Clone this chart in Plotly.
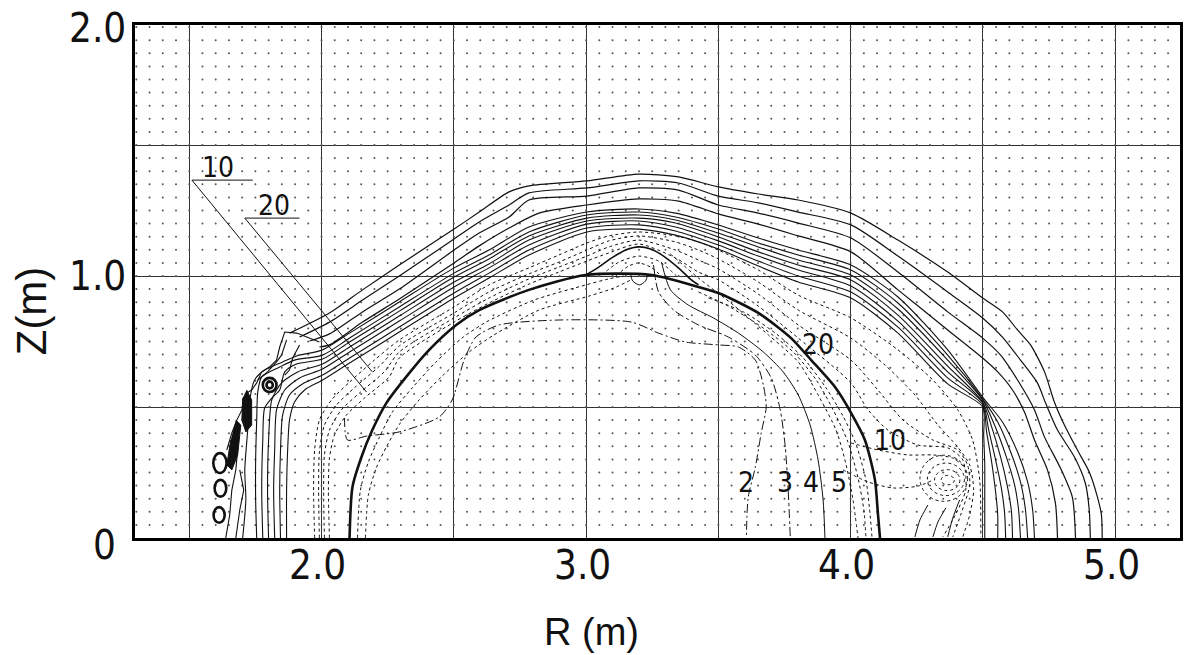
import numpy as np
import plotly.graph_objects as go

# ---------------- axes ----------------
R_RANGE = [1.295, 5.245]
Z_RANGE = [0.0, 1.958]
R_GRID = [1.5, 2.0, 2.5, 3.0, 3.5, 4.0, 4.5, 5.0]
Z_GRID = [0.5, 1.0, 1.5]
R_TICKS = [2.0, 3.0, 4.0, 5.0]
R_TICKTEXT = ["2.0", "3.0", "4.0", "5.0"]
Z_TICKS = [0.0, 1.0, 1.958]
Z_TICKTEXT = ["0", "1.0", "2.0"]

# ---------------- outer flux lines (solid) ----------------
O1_R = [1.879, 2.030, 2.155, 2.294, 2.501, 2.596, 2.709, 2.784, 3.003, 3.199, 3.349, 3.500, 3.651, 3.802, 4.001, 4.179, 4.367, 4.499, 4.574, 4.631, 4.680, 4.733, 4.770, 4.808, 4.857, 4.902, 4.933, 4.948, 4.951]
O1_Z = [0.782, 0.859, 0.947, 1.042, 1.179, 1.244, 1.321, 1.344, 1.363, 1.389, 1.378, 1.340, 1.313, 1.290, 1.240, 1.137, 1.015, 0.916, 0.863, 0.794, 0.737, 0.634, 0.519, 0.431, 0.336, 0.252, 0.156, 0.088, 0.0]
O2_R = [1.917, 2.030, 2.155, 2.294, 2.501, 2.596, 2.709, 2.784, 3.003, 3.199, 3.349, 3.500, 3.651, 3.802, 4.001, 4.179, 4.367, 4.499, 4.574, 4.642, 4.706, 4.737, 4.782, 4.846, 4.887, 4.902, 4.906]
O2_Z = [0.767, 0.824, 0.908, 1.000, 1.141, 1.206, 1.271, 1.317, 1.336, 1.363, 1.355, 1.305, 1.279, 1.244, 1.195, 1.076, 0.939, 0.840, 0.767, 0.679, 0.592, 0.515, 0.412, 0.309, 0.210, 0.107, 0.0]
O3_R = [1.955, 2.030, 2.155, 2.294, 2.501, 2.596, 2.709, 2.784, 3.003, 3.199, 3.349, 3.500, 3.651, 3.802, 4.001, 4.179, 4.367, 4.499, 4.567, 4.631, 4.695, 4.733, 4.793, 4.838, 4.850]
O3_Z = [0.752, 0.779, 0.863, 0.950, 1.099, 1.164, 1.225, 1.290, 1.305, 1.336, 1.328, 1.271, 1.240, 1.202, 1.145, 1.015, 0.863, 0.763, 0.698, 0.603, 0.489, 0.385, 0.267, 0.156, 0.0]
O4_R = [1.992, 2.030, 2.155, 2.294, 2.501, 2.596, 2.709, 2.822, 3.003, 3.199, 3.349, 3.500, 3.651, 3.802, 4.001, 4.179, 4.367, 4.499, 4.556, 4.612, 4.657, 4.695, 4.744, 4.774, 4.782]
O4_Z = [0.729, 0.737, 0.824, 0.912, 1.050, 1.115, 1.183, 1.240, 1.271, 1.294, 1.286, 1.237, 1.198, 1.153, 1.092, 0.947, 0.794, 0.687, 0.634, 0.565, 0.481, 0.374, 0.260, 0.134, 0.0]

# ---------------- band flux lines (solid) ----------------
B1_R = [1.702, 1.714, 1.710, 1.721, 1.729, 1.747, 1.785, 1.853, 1.906, 2.004, 2.106, 2.294, 2.501, 2.633, 2.784, 3.003, 3.199, 3.338, 3.500, 3.651, 3.802, 4.001, 4.179, 4.367, 4.499, 4.574, 4.631, 4.669, 4.688, 4.695]
B1_Z = [0.0, 0.145, 0.260, 0.412, 0.527, 0.603, 0.641, 0.672, 0.695, 0.718, 0.782, 0.901, 1.031, 1.099, 1.187, 1.244, 1.256, 1.240, 1.195, 1.145, 1.099, 1.042, 0.920, 0.718, 0.538, 0.443, 0.328, 0.214, 0.107, 0.0]
B2_R = [1.755, 1.751, 1.751, 1.755, 1.759, 1.774, 1.842, 1.898, 2.004, 2.106, 2.294, 2.501, 2.633, 2.784, 3.003, 3.199, 3.338, 3.500, 3.651, 3.802, 4.001, 4.179, 4.367, 4.499, 4.556, 4.605, 4.642, 4.661, 4.669]
B2_Z = [0.0, 0.145, 0.298, 0.450, 0.557, 0.615, 0.653, 0.679, 0.698, 0.763, 0.882, 1.011, 1.080, 1.168, 1.233, 1.244, 1.225, 1.179, 1.126, 1.080, 1.023, 0.897, 0.698, 0.531, 0.443, 0.328, 0.214, 0.107, 0.0]
B3_R = [1.778, 1.774, 1.778, 1.785, 1.812, 1.842, 1.861, 1.906, 2.004, 2.106, 2.294, 2.501, 2.633, 2.784, 3.003, 3.199, 3.338, 3.500, 3.651, 3.802, 4.001, 4.179, 4.367, 4.499, 4.544, 4.586, 4.620, 4.635, 4.642]
B3_Z = [0.0, 0.183, 0.374, 0.496, 0.534, 0.565, 0.634, 0.664, 0.683, 0.748, 0.866, 0.996, 1.065, 1.153, 1.221, 1.233, 1.214, 1.164, 1.111, 1.061, 1.004, 0.874, 0.679, 0.527, 0.431, 0.317, 0.202, 0.107, 0.0]
B4_R = [1.800, 1.796, 1.800, 1.812, 1.849, 1.910, 2.004, 2.106, 2.294, 2.501, 2.633, 2.784, 3.003, 3.199, 3.338, 3.500, 3.651, 3.802, 4.001, 4.179, 4.367, 4.499, 4.533, 4.567, 4.593, 4.608, 4.612]
B4_Z = [0.0, 0.183, 0.374, 0.527, 0.592, 0.634, 0.664, 0.729, 0.847, 0.977, 1.046, 1.137, 1.210, 1.221, 1.202, 1.149, 1.092, 1.042, 0.985, 0.851, 0.656, 0.519, 0.424, 0.309, 0.195, 0.099, 0.0]
B5_R = [1.823, 1.819, 1.823, 1.830, 1.861, 1.917, 2.004, 2.106, 2.294, 2.501, 2.633, 2.784, 3.003, 3.199, 3.338, 3.500, 3.651, 3.802, 4.001, 4.179, 4.367, 4.499, 4.522, 4.548, 4.571, 4.582, 4.586]
B5_Z = [0.0, 0.183, 0.336, 0.489, 0.565, 0.611, 0.645, 0.710, 0.828, 0.958, 1.031, 1.118, 1.198, 1.210, 1.187, 1.134, 1.076, 1.023, 0.962, 0.828, 0.634, 0.515, 0.412, 0.298, 0.183, 0.095, 0.0]
B6_R = [1.845, 1.842, 1.845, 1.853, 1.879, 1.928, 2.004, 2.106, 2.294, 2.501, 2.633, 2.784, 3.003, 3.199, 3.338, 3.500, 3.651, 3.802, 4.001, 4.179, 4.367, 4.499, 4.514, 4.533, 4.548, 4.556, 4.556]
B6_Z = [0.0, 0.183, 0.336, 0.469, 0.546, 0.588, 0.622, 0.687, 0.805, 0.935, 1.011, 1.099, 1.183, 1.195, 1.172, 1.118, 1.057, 1.000, 0.939, 0.805, 0.611, 0.508, 0.405, 0.290, 0.176, 0.088, 0.0]
B7_R = [1.868, 1.868, 1.872, 1.879, 1.898, 1.936, 2.004, 2.106, 2.294, 2.501, 2.633, 2.784, 3.003, 3.199, 3.338, 3.500, 3.651, 3.802, 4.001, 4.179, 4.367, 4.499, 4.503, 4.507, 4.507, 4.507, 4.507]
B7_Z = [0.0, 0.183, 0.336, 0.450, 0.519, 0.565, 0.603, 0.668, 0.786, 0.916, 0.992, 1.080, 1.168, 1.179, 1.156, 1.103, 1.038, 0.977, 0.916, 0.782, 0.588, 0.500, 0.393, 0.279, 0.164, 0.088, 0.0]

# ---------------- dense band along the wall, "10" family (dotted) ----------------
D1_R = [1.974, 1.970, 1.974, 1.992, 2.038, 2.106, 2.200, 2.294, 2.501, 2.633, 2.784, 2.897, 3.003, 3.086, 3.199, 3.338, 3.425, 3.500, 3.651, 3.802, 4.001, 4.179, 4.311, 4.405, 4.461, 4.488, 4.492]
D1_Z = [0.0, 0.183, 0.336, 0.450, 0.527, 0.595, 0.679, 0.756, 0.882, 0.966, 1.031, 1.080, 1.126, 1.153, 1.168, 1.153, 1.130, 1.099, 1.023, 0.927, 0.840, 0.718, 0.603, 0.489, 0.374, 0.221, 0.004]
D2_R = [1.992, 1.989, 1.992, 2.011, 2.057, 2.124, 2.219, 2.294, 2.501, 2.633, 2.784, 2.897, 3.003, 3.086, 3.199, 3.338, 3.425, 3.500, 3.651, 3.802, 4.001, 4.130, 4.243, 4.330, 4.405, 4.450, 4.465, 4.450, 4.424]
D2_Z = [0.0, 0.183, 0.328, 0.431, 0.508, 0.573, 0.656, 0.733, 0.859, 0.939, 1.008, 1.053, 1.099, 1.134, 1.153, 1.130, 1.099, 1.065, 0.977, 0.870, 0.763, 0.660, 0.546, 0.431, 0.347, 0.279, 0.183, 0.088, 0.004]
D3_R = [2.011, 2.008, 2.011, 2.030, 2.075, 2.143, 2.237, 2.294, 2.501, 2.633, 2.784, 2.897, 3.003, 3.086, 3.199, 3.338, 3.425, 3.500, 3.651, 3.802, 4.001, 4.103, 4.198, 4.311, 4.405, 4.442, 4.450, 4.416, 4.386]
D3_Z = [0.0, 0.183, 0.317, 0.412, 0.489, 0.553, 0.634, 0.710, 0.840, 0.916, 0.989, 1.034, 1.076, 1.111, 1.137, 1.099, 1.061, 1.027, 0.931, 0.813, 0.679, 0.565, 0.450, 0.374, 0.336, 0.279, 0.202, 0.088, 0.004]
D4_R = [2.030, 2.026, 2.030, 2.049, 2.094, 2.162, 2.256, 2.294, 2.501, 2.633, 2.784, 2.897, 3.003, 3.086, 3.199, 3.338, 3.425, 3.500, 3.651, 3.802, 4.001, 4.066, 4.141, 4.254, 4.367, 4.424, 4.435, 4.386, 4.348]
D4_Z = [0.0, 0.183, 0.305, 0.393, 0.469, 0.534, 0.615, 0.687, 0.824, 0.897, 0.969, 1.015, 1.057, 1.088, 1.122, 1.069, 1.015, 0.985, 0.885, 0.763, 0.592, 0.489, 0.412, 0.355, 0.344, 0.298, 0.183, 0.069, 0.004]

# ---------------- vessel outline (thick) ----------------
WALL_R = [2.106, 2.117, 2.151, 2.192, 2.245, 2.320, 2.407, 2.509, 2.596, 2.784, 2.999, 3.248, 3.398, 3.500, 3.651, 3.775, 3.851, 3.941, 4.002, 4.054, 4.092, 4.103, 4.111]
WALL_Z = [0.0, 0.195, 0.309, 0.412, 0.515, 0.615, 0.718, 0.813, 0.870, 0.947, 1.004, 1.004, 0.966, 0.935, 0.859, 0.763, 0.679, 0.576, 0.477, 0.374, 0.221, 0.095, 0.0]

# ---------------- inner contours ----------------
BUMP_R = [2.999, 3.048, 3.097, 3.150, 3.199, 3.244, 3.293, 3.349, 3.398, 3.425]
BUMP_Z = [1.004, 1.034, 1.069, 1.099, 1.111, 1.103, 1.076, 1.031, 0.985, 0.966]
BUMP2_R = [3.059, 3.124, 3.199, 3.274, 3.342]
BUMP2_Z = [1.004, 1.053, 1.076, 1.057, 1.000]
BUMP3_R = [3.112, 3.161, 3.199, 3.244, 3.289]
BUMP3_Z = [1.000, 1.038, 1.050, 1.034, 0.996]
LOOP_R = [3.168, 3.176, 3.202, 3.225, 3.233]
LOOP_Z = [1.008, 0.981, 0.966, 0.981, 1.008]

C2_R = [2.087, 2.098, 2.170, 2.294, 2.445, 2.494, 2.539, 2.584, 2.671, 2.897, 3.172, 3.274, 3.376, 3.500, 3.576, 3.640, 3.670, 3.681, 3.662, 3.640, 3.613, 3.606]
C2_Z = [0.458, 0.374, 0.389, 0.405, 0.462, 0.527, 0.679, 0.767, 0.813, 0.832, 0.824, 0.782, 0.748, 0.737, 0.729, 0.679, 0.584, 0.500, 0.401, 0.271, 0.156, 0.0]
C3_R = [3.255, 3.274, 3.331, 3.425, 3.538, 3.640, 3.700, 3.734, 3.753, 3.764, 3.772]
C3_Z = [1.042, 0.939, 0.870, 0.813, 0.767, 0.698, 0.611, 0.489, 0.347, 0.183, 0.0]
C4_R = [3.285, 3.319, 3.387, 3.481, 3.576, 3.670, 3.745, 3.802, 3.847, 3.877, 3.896, 3.903]
C4_Z = [1.053, 0.947, 0.889, 0.840, 0.782, 0.710, 0.634, 0.546, 0.431, 0.298, 0.145, 0.0]
C5_R = [3.319, 3.425, 3.557, 3.689, 3.802, 3.877, 3.945, 3.983, 4.009, 4.028]
C5_Z = [1.084, 0.992, 0.889, 0.775, 0.672, 0.546, 0.412, 0.279, 0.145, 0.0]
IR1_R = [3.425, 3.538, 3.670, 3.783, 3.870, 3.934, 3.990, 4.028, 4.050, 4.058]
IR1_Z = [0.939, 0.885, 0.801, 0.710, 0.603, 0.489, 0.366, 0.229, 0.107, 0.0]
IR2_R = [3.463, 3.595, 3.719, 3.821, 3.907, 3.971, 4.020, 4.058, 4.073, 4.081]
IR2_Z = [0.916, 0.863, 0.779, 0.687, 0.573, 0.466, 0.359, 0.221, 0.095, 0.0]
IL1_R = [2.136, 2.147, 2.177, 2.219, 2.268, 2.343, 2.433, 2.531, 2.622, 2.803, 2.999, 3.086, 3.142]
IL1_Z = [0.0, 0.183, 0.290, 0.385, 0.481, 0.573, 0.672, 0.763, 0.824, 0.908, 0.966, 0.989, 1.000]
IL2_R = [2.166, 2.177, 2.207, 2.249, 2.298, 2.369, 2.456, 2.558, 2.652, 2.822, 3.010, 3.105, 3.169]
IL2_Z = [0.0, 0.164, 0.267, 0.355, 0.439, 0.527, 0.618, 0.710, 0.775, 0.870, 0.923, 0.954, 0.985]

# ---------------- vortex near the outer corner ----------------
V3_R = [4.001, 4.103, 4.217, 4.311, 4.386, 4.435]
V3_Z = [0.363, 0.336, 0.317, 0.317, 0.305, 0.267]
V4_R = [3.971, 4.066, 4.160, 4.254, 4.311]
V4_Z = [0.260, 0.214, 0.191, 0.198, 0.221]
W1_R = [4.292, 4.262, 4.243]
W1_Z = [0.126, 0.069, 0.004]
W2_R = [4.360, 4.330, 4.311]
W2_Z = [0.115, 0.061, 0.004]
W3_R = [4.412, 4.386, 4.367]
W3_Z = [0.145, 0.076, 0.004]
VORTEX_R = [4.367, 4.365, 4.360, 4.352]
VORTEX_Z = [0.221, 0.221, 0.224, 0.228]
VORTEX_HW = [0.025, 0.048, 0.070, 0.090]
VORTEX_HH = [0.018, 0.040, 0.062, 0.088]

# ---------------- coils and inner-wall structure ----------------
COIL_R = [1.616, 1.618, 1.613, 1.804, 1.804]
COIL_Z = [0.286, 0.190, 0.088, 0.584, 0.584]
COIL_HW = [0.025, 0.022, 0.021, 0.026, 0.012]
COIL_HH = [0.038, 0.032, 0.030, 0.027, 0.013]
S1_R = [1.717, 1.736, 1.736, 1.714, 1.699, 1.702]
S1_Z = [0.565, 0.527, 0.431, 0.405, 0.450, 0.534]
S2_R = [1.676, 1.695, 1.683, 1.661, 1.642, 1.657]
S2_Z = [0.450, 0.431, 0.317, 0.260, 0.279, 0.374]
J1_R = [1.642, 1.661, 1.680, 1.699, 1.717, 1.736, 1.755, 1.774, 1.804, 1.830, 1.842, 1.861, 1.906, 1.955, 1.992]
J1_Z = [0.336, 0.401, 0.450, 0.489, 0.553, 0.565, 0.592, 0.634, 0.653, 0.679, 0.729, 0.786, 0.782, 0.763, 0.748]
J2_R = [1.868, 1.849, 1.830, 1.796, 1.759]
J2_Z = [0.756, 0.698, 0.672, 0.634, 0.603]
J3_R = [1.917, 1.891, 1.879, 1.861]
J3_Z = [0.737, 0.687, 0.641, 0.622]
K1_R = [1.638, 1.653, 1.661, 1.676, 1.683]
K1_Z = [0.0, 0.088, 0.183, 0.260, 0.336]
K2_R = [1.691, 1.706, 1.691, 1.676]
K2_Z = [0.260, 0.183, 0.107, 0.0]

# ---------------- labels ----------------
LEAD10_R = [1.740, 1.510, 2.170]
LEAD10_Z = [1.366, 1.366, 0.557]
LEAD20_R = [1.917, 1.710, 2.192]
LEAD20_Z = [1.221, 1.221, 0.634]
LABEL_TEXT = ["10", "20", "20", "10", "2", "3", "4", "5"]
LABEL_R = [1.608, 1.819, 3.877, 4.148, 3.606, 3.753, 3.851, 3.957]
LABEL_Z = [1.416, 1.271, 0.740, 0.374, 0.210, 0.210, 0.210, 0.210]

INK = "#111111"
NARROW = "Liberation Sans Narrow, DejaVu Sans Condensed, Liberation Sans, sans-serif"
REG = "Liberation Sans, Arial, sans-serif"

fig = go.Figure()

# graph-paper dot grid (background decoration, 5 cm pitch)
gr = np.round(np.arange(1.30, 5.2001, 0.05), 3)
gz = np.round(np.arange(0.05, 1.9501, 0.05), 3)
GR, GZ = np.meshgrid(gr, gz)
fig.add_trace(go.Scatter(x=GR.ravel(), y=GZ.ravel(), mode="markers",
                         marker=dict(size=2.0, color="#555555"),
                         hoverinfo="skip", showlegend=False))


def add_line(r, z, width=1.1, dash="solid", shape="spline", color=INK):
    fig.add_trace(go.Scatter(x=r, y=z, mode="lines",
                             line=dict(width=width, dash=dash, color=color,
                                       shape=shape, smoothing=0.7),
                             hoverinfo="skip", showlegend=False))


for r, z in [(O1_R, O1_Z), (O2_R, O2_Z), (O3_R, O3_Z), (O4_R, O4_Z)]:
    add_line(r, z, width=1.2)
for r, z in [(B1_R, B1_Z), (B2_R, B2_Z), (B3_R, B3_Z), (B4_R, B4_Z),
             (B5_R, B5_Z), (B6_R, B6_Z), (B7_R, B7_Z)]:
    add_line(r, z, width=1.1)
for r, z in [(D1_R, D1_Z), (D2_R, D2_Z), (D3_R, D3_Z), (D4_R, D4_Z)]:
    add_line(r, z, width=1.0, dash="dot")

add_line(BUMP_R, BUMP_Z, width=1.6)
add_line(BUMP2_R, BUMP2_Z, width=1.0, dash="dot")
add_line(BUMP3_R, BUMP3_Z, width=1.0, dash="dot")
add_line(LOOP_R, LOOP_Z, width=1.0)
add_line(C2_R, C2_Z, width=1.0, dash="9px,3px,2px,3px")
add_line(C3_R, C3_Z, width=1.0, dash="dashdot")
add_line(C4_R, C4_Z, width=1.0)
add_line(C5_R, C5_Z, width=1.0, dash="dot")
for r, z in [(IR1_R, IR1_Z), (IR2_R, IR2_Z), (IL1_R, IL1_Z), (IL2_R, IL2_Z)]:
    add_line(r, z, width=1.0, dash="dot")
for r, z in [(V3_R, V3_Z), (V4_R, V4_Z)]:
    add_line(r, z, width=1.0, dash="dot")
for r, z in [(W1_R, W1_Z), (W2_R, W2_Z), (W3_R, W3_Z)]:
    add_line(r, z, width=1.0)

add_line(WALL_R, WALL_Z, width=2.6)

for r, z in [(J1_R, J1_Z), (J2_R, J2_Z), (J3_R, J3_Z), (K1_R, K1_Z), (K2_R, K2_Z)]:
    add_line(r, z, width=1.1, shape="linear")
for r, z in [(S1_R, S1_Z), (S2_R, S2_Z)]:
    fig.add_trace(go.Scatter(x=r, y=z, mode="lines", fill="toself",
                             fillcolor=INK, line=dict(color=INK, width=1),
                             hoverinfo="skip", showlegend=False))

add_line(LEAD10_R, LEAD10_Z, width=1.0, shape="linear")
add_line(LEAD20_R, LEAD20_Z, width=1.0, shape="linear")

shapes = []
for cr, cz, hw, hh in zip(COIL_R, COIL_Z, COIL_HW, COIL_HH):
    shapes.append(dict(type="circle", xref="x", yref="y",
                       x0=cr - hw, x1=cr + hw, y0=cz - hh, y1=cz + hh,
                       line=dict(color=INK, width=2.6)))
for cr, cz, hw, hh in zip(VORTEX_R, VORTEX_Z, VORTEX_HW, VORTEX_HH):
    shapes.append(dict(type="circle", xref="x", yref="y",
                       x0=cr - hw, x1=cr + hw, y0=cz - hh, y1=cz + hh,
                       line=dict(color=INK, width=1.0, dash="dot")))

annotations = []
for t, r, z in zip(LABEL_TEXT, LABEL_R, LABEL_Z):
    annotations.append(dict(x=r, y=z, xref="x", yref="y", text=t, showarrow=False,
                            font=dict(family=NARROW, size=28, color=INK)))
# tick labels
for t, r in zip(R_TICKTEXT, R_TICKS):
    annotations.append(dict(x=r, y=-0.0526, xref="x", yref="paper", text=t,
                            showarrow=False, xanchor="center", yanchor="middle",
                            xshift=-4, font=dict(family=NARROW, size=40, color=INK)))
for t, z, dx, dy in zip(Z_TICKTEXT, Z_TICKS, [-10, 0, 0], [-7, 0, -3]):
    annotations.append(dict(x=-0.0067, y=z, xref="paper", yref="y", text=t,
                            showarrow=False, xanchor="right", yanchor="middle",
                            xshift=dx, yshift=dy,
                            font=dict(family=NARROW, size=40, color=INK)))
# axis titles
annotations.append(dict(x=-0.0983, y=0.4425, xref="paper", yref="paper", text="Z(m)",
                        textangle=-90, showarrow=False, xanchor="center", yanchor="middle",
                        font=dict(family=REG, size=42, color=INK)))
annotations.append(dict(x=0.437, y=-0.1832, xref="paper", yref="paper", text="R (m)",
                        showarrow=False, xanchor="center", yanchor="middle",
                        font=dict(family=REG, size=38, color=INK)))

axis_common = dict(showgrid=True, gridcolor="#333333", gridwidth=1.1, zeroline=False,
                   showline=True, linecolor="black", linewidth=3, mirror=True,
                   ticks="", showticklabels=False, tickmode="array")

fig.update_layout(
    width=1188, height=655,
    margin=dict(l=135, r=5, t=25, b=117),
    paper_bgcolor="white", plot_bgcolor="white",
    showlegend=False,
    shapes=shapes, annotations=annotations,
    xaxis=dict(range=R_RANGE, tickvals=R_GRID, **axis_common),
    yaxis=dict(range=Z_RANGE, tickvals=Z_GRID, **axis_common),
)

fig.write_html("out.html")
